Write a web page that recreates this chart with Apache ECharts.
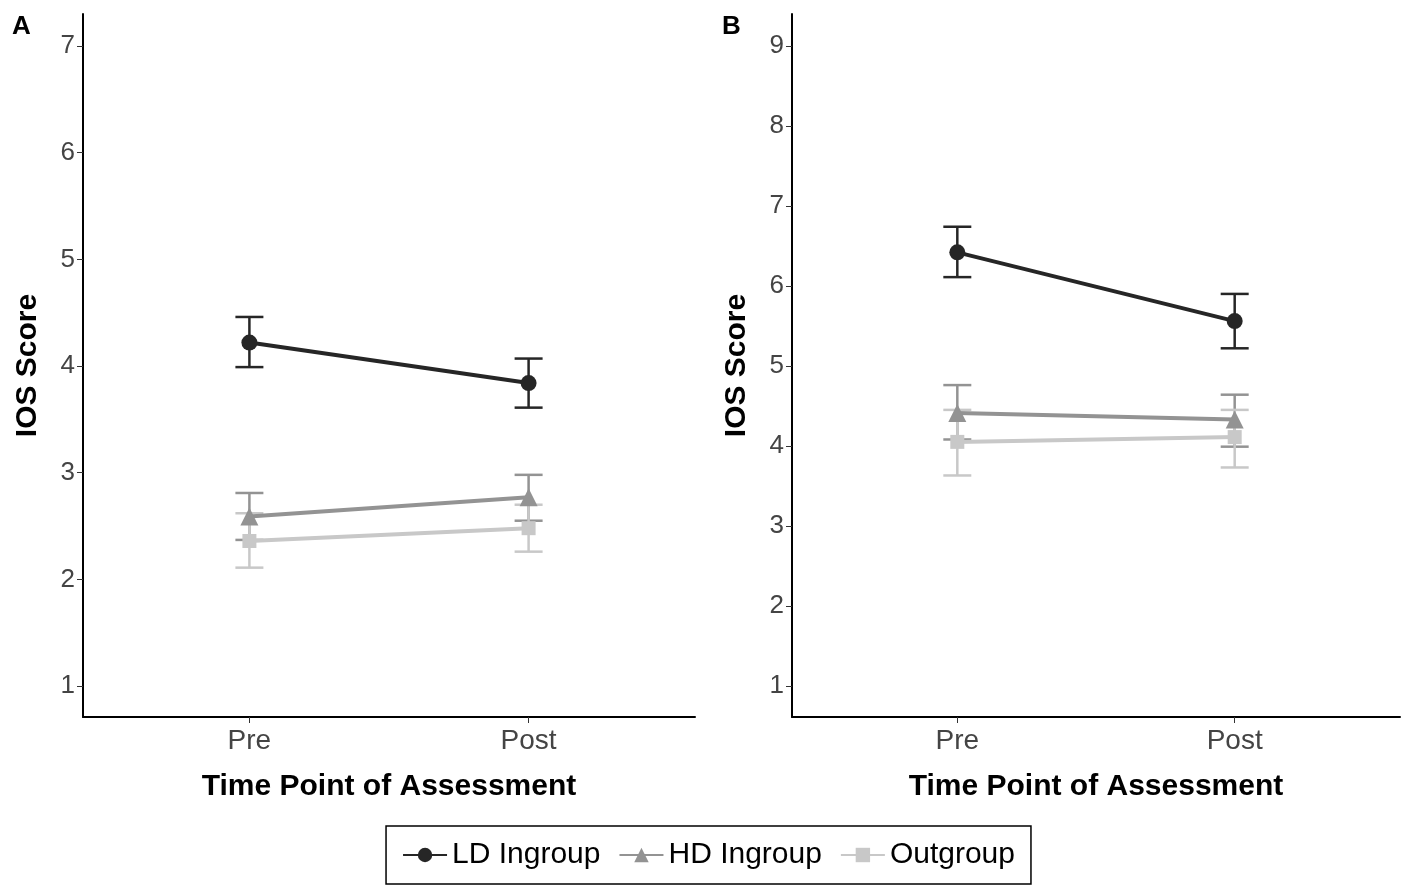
<!DOCTYPE html>
<html><head><meta charset="utf-8">
<script src="https://cdn.jsdelivr.net/npm/echarts@6/dist/echarts.min.js"></script>
<style>body{margin:0}#c{width:1417px;height:886px}</style></head>
<body><div id="c"></div>
<script>
// mean, lower, upper for Pre and Post
const groups = [
  { name: 'LD Ingroup', color: '#262626', symbol: 'circle', size: 16,
    A: [[4.22, 3.99, 4.46], [3.84, 3.61, 4.07]],
    B: [[6.42, 6.11, 6.74], [5.56, 5.22, 5.90]] },
  { name: 'HD Ingroup', color: '#939393', symbol: 'triangle', size: 18,
    A: [[2.59, 2.37, 2.81], [2.77, 2.55, 2.98]],
    B: [[4.41, 4.08, 4.76], [4.33, 3.99, 4.64]] },
  { name: 'Outgroup', color: '#c8c8c8', symbol: 'rect', size: 14,
    A: [[2.36, 2.11, 2.62], [2.48, 2.26, 2.70]],
    B: [[4.05, 3.63, 4.45], [4.11, 3.73, 4.45]] }
];
const font = 'Liberation Sans, Arial, sans-serif';
function xAxis(i) {
  return { gridIndex: i, type: 'value', min: 0.404, max: 2.596, interval: 1,
    axisLine: { lineStyle: { color: '#000', width: 2 } },
    axisTick: { show: true, customValues: [1, 2], length: 6, lineStyle: { color: '#333' } },
    axisLabel: { customValues: [1, 2], formatter: v => v === 1 ? 'Pre' : 'Post', fontSize: 28, color: '#444', fontFamily: font, margin: 10 },
    splitLine: { show: false },
    name: 'Time Point of Assessment', nameLocation: 'middle', nameGap: 55,
    nameTextStyle: { fontSize: 30, fontWeight: 'bold', color: '#000', fontFamily: font } };
}
function yAxis(i, min, max, top) {
  return { gridIndex: i, type: 'value', min: min, max: max,
    axisLine: { show: true, lineStyle: { color: '#000', width: 2 } },
    axisTick: { show: true, customValues: Array.from({ length: top }, (_, k) => k + 1), length: 6, lineStyle: { color: '#333' } },
    axisLabel: { customValues: Array.from({ length: top }, (_, k) => k + 1), fontSize: 26, color: '#444', fontFamily: font },
    splitLine: { show: false },
    name: 'IOS Score', nameLocation: 'middle', nameGap: 40,
    nameTextStyle: { fontSize: 30, fontWeight: 'bold', color: '#000', fontFamily: font } };
}
const series = [];
['A', 'B'].forEach((p, i) => {
  groups.forEach(g => {
    series.push({ type: 'custom', xAxisIndex: i, yAxisIndex: i, silent: true, z: 1,
      data: g[p].map((d, k) => [k + 1, d[1], d[2]]),
      renderItem: (params, api) => {
        const lo = api.coord([api.value(0), api.value(1)]);
        const hi = api.coord([api.value(0), api.value(2)]);
        const w = 14, st = { stroke: g.color, lineWidth: 2.5 };
        return { type: 'group', children: [
          { type: 'line', shape: { x1: lo[0], y1: lo[1], x2: hi[0], y2: hi[1] }, style: st },
          { type: 'line', shape: { x1: lo[0] - w, y1: lo[1], x2: lo[0] + w, y2: lo[1] }, style: st },
          { type: 'line', shape: { x1: hi[0] - w, y1: hi[1], x2: hi[0] + w, y2: hi[1] }, style: st }
        ] };
      } });
    series.push({ type: 'line', name: g.name, xAxisIndex: i, yAxisIndex: i, z: 3,
      data: g[p].map((d, k) => [k + 1, d[0]]),
      symbol: g.symbol, symbolSize: g.size, color: g.color,
      lineStyle: { width: 4, color: g.color }, itemStyle: { color: g.color } });
  });
});
const chart = echarts.init(document.getElementById('c'));
chart.setOption({
  animation: false,
  backgroundColor: '#fff',
  grid: [
    { left: 83, top: 14, width: 612, height: 703 },
    { left: 792, top: 14, width: 608, height: 703 }
  ],
  xAxis: [xAxis(0), xAxis(1)],
  yAxis: [yAxis(0, 0.71, 7.3, 7), yAxis(1, 0.61, 9.4, 9)],
  graphic: [
    { type: 'text', left: 12, top: 14, style: { text: 'A', fontSize: 26, fontWeight: 'bold', fontFamily: font } },
    { type: 'text', left: 722, top: 14, style: { text: 'B', fontSize: 26, fontWeight: 'bold', fontFamily: font } }
  ],
  legend: { bottom: 2, left: 'center', data: groups.map(g => g.name),
    borderColor: '#000', borderWidth: 1.5, padding: [14, 16], itemGap: 18,
    itemWidth: 44, itemHeight: 18,
    textStyle: { fontSize: 30, color: '#000', fontFamily: font } },
  series: series
});
</script></body></html>
